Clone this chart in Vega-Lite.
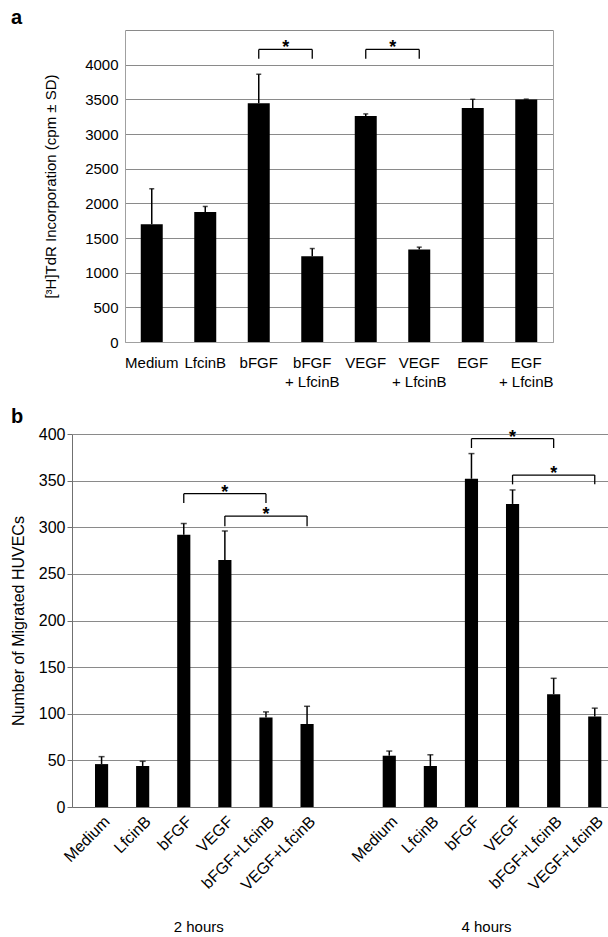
{
  "$schema": "https://vega.github.io/schema/vega-lite/v6.json",
  "background": "white",
  "padding": {"left": 10, "top": 8, "right": 0, "bottom": 0},
  "spacing": 18,
  "config": {
    "font": "Liberation Sans",
    "axis": {"labelFont": "Liberation Sans", "titleFont": "Liberation Sans", "labelColor": "black", "titleColor": "black", "titleFontWeight": "normal", "labelFontSize": 15, "titleFontSize": 15},
    "title": {"font": "Liberation Sans", "fontSize": 20, "fontWeight": "bold", "anchor": "start", "frame": "group", "color": "black"}
  },
  "vconcat": [
    {
      "width": 481,
      "height": 312,
      "title": {"text": "a", "dx": -61, "baseline": "alphabetic", "offset": 0, "dy": 14},
      "view": {"stroke": null},
      "resolve": {"axis": {"y": "independent"}},
      "data": {"values": [
        {"cond": "Medium", "mean": 1700, "upper": 2210},
        {"cond": "LfcinB", "mean": 1874, "upper": 1955},
        {"cond": "bFGF", "mean": 3443, "upper": 3862},
        {"cond": "bFGF + LfcinB", "mean": 1238, "upper": 1348},
        {"cond": "VEGF", "mean": 3261, "upper": 3290},
        {"cond": "VEGF + LfcinB", "mean": 1333, "upper": 1368},
        {"cond": "EGF", "mean": 3376, "upper": 3501},
        {"cond": "EGF + LfcinB", "mean": 3497, "upper": 3503}
      ]},
      "layer": [
        {
          "mark": {"type": "bar", "color": "black"},
          "encoding": {
            "x": {"field": "cond", "type": "nominal", "sort": null,
              "scale": {"domain": ["Medium", "LfcinB", "bFGF", "bFGF + LfcinB", "VEGF", "VEGF + LfcinB", "EGF", "EGF + LfcinB"], "range": [53, 481], "paddingInner": 0.589, "paddingOuter": 0.2945},
              "axis": {"title": null, "labelAngle": 0, "ticks": false, "domain": true, "domainColor": "#a0a0a0", "labelPadding": 13, "labelLineHeight": 19, "labelBaseline": "top",
                "labelExpr": "indexof(datum.label, ' + ') > 0 ? [split(datum.label, ' + ')[0], '+ ' + split(datum.label, ' + ')[1]] : datum.label"}},
            "y": {"field": "mean", "type": "quantitative",
              "scale": {"domain": [0, 4500], "nice": false},
              "axis": {"title": "[³H]TdR Incorporation (cpm ± SD)", "format": "d", "offset": -53, "values": [0, 500, 1000, 1500, 2000, 2500, 3000, 3500, 4000, 4500], "labelExpr": "datum.value == 4500 ? '' : datum.label", "grid": true, "gridColor": "#8a8a8a", "domain": true, "domainColor": "#a0a0a0", "ticks": false, "labelPadding": 7, "titlePadding": 26}}
          }
        },
        {
          "mark": {"type": "rule", "color": "black", "strokeWidth": 1.5},
          "encoding": {"x": {"field": "cond", "type": "nominal", "sort": null}, "y": {"field": "mean", "type": "quantitative",
            "axis": {"orient": "right", "title": null, "labels": false, "ticks": false, "grid": false, "domain": true, "domainColor": "#a0a0a0"}}, "y2": {"field": "upper"}}
        },
        {
          "mark": {"type": "tick", "color": "black", "size": 5, "thickness": 1.5},
          "encoding": {"x": {"field": "cond", "type": "nominal", "sort": null}, "y": {"field": "upper", "type": "quantitative", "axis": null}}
        },
        {
          "data": {"values": [
            {"from": "bFGF", "to": "bFGF + LfcinB", "level": 4220, "foot": 4085},
            {"from": "VEGF", "to": "VEGF + LfcinB", "level": 4220, "foot": 4085}
          ]},
          "layer": [
            {"mark": {"type": "rule", "color": "black", "strokeWidth": 1.3},
             "encoding": {"x": {"field": "from", "type": "nominal"}, "x2": {"field": "to"}, "y": {"field": "level", "type": "quantitative", "axis": null}}},
            {"mark": {"type": "rule", "color": "black", "strokeWidth": 1.3},
             "encoding": {"x": {"field": "from", "type": "nominal"}, "y": {"field": "level", "type": "quantitative", "axis": null}, "y2": {"field": "foot"}}},
            {"mark": {"type": "rule", "color": "black", "strokeWidth": 1.3},
             "encoding": {"x": {"field": "to", "type": "nominal"}, "y": {"field": "level", "type": "quantitative", "axis": null}, "y2": {"field": "foot"}}},
            {"mark": {"type": "text", "text": "*", "fontSize": 18, "fontWeight": "bold", "font": "Liberation Sans", "color": "black", "dx": 27, "dy": -1, "baseline": "middle"},
             "encoding": {"x": {"field": "from", "type": "nominal"}, "y": {"field": "level", "type": "quantitative", "axis": null}}}
          ]
        }
      ]
    },
    {
      "width": 537,
      "height": 373,
      "title": {"text": "b", "dx": -61, "baseline": "alphabetic", "offset": 0, "dy": 17},
      "view": {"stroke": null},
      "data": {"values": [
        {"key": "2h|Medium", "mean": 46, "upper": 54},
        {"key": "2h|LfcinB", "mean": 44, "upper": 49},
        {"key": "2h|bFGF", "mean": 292, "upper": 304},
        {"key": "2h|VEGF", "mean": 265, "upper": 296},
        {"key": "2h|bFGF+LfcinB", "mean": 96, "upper": 102},
        {"key": "2h|VEGF+LfcinB", "mean": 89, "upper": 108},
        {"key": "4h|Medium", "mean": 55, "upper": 60},
        {"key": "4h|LfcinB", "mean": 44, "upper": 56},
        {"key": "4h|bFGF", "mean": 352, "upper": 379},
        {"key": "4h|VEGF", "mean": 325, "upper": 340},
        {"key": "4h|bFGF+LfcinB", "mean": 121, "upper": 138},
        {"key": "4h|VEGF+LfcinB", "mean": 97, "upper": 106}
      ]},
      "layer": [
        {
          "mark": {"type": "bar", "color": "black"},
          "encoding": {
            "x": {"field": "key", "type": "nominal", "sort": null,
              "scale": {"domain": ["2h|Medium", "2h|LfcinB", "2h|bFGF", "2h|VEGF", "2h|bFGF+LfcinB", "2h|VEGF+LfcinB", "gap", "4h|Medium", "4h|LfcinB", "4h|bFGF", "4h|VEGF", "4h|bFGF+LfcinB", "4h|VEGF+LfcinB"], "paddingInner": 0.68, "paddingOuter": 0.373, "align": 0.75},
              "axis": {"title": null, "labelAngle": -45, "labelFontSize": 16, "ticks": false, "domain": true, "domainColor": "#707070", "labelPadding": 6,
                "labelExpr": "datum.value == 'gap' ? '' : split(datum.value, '|')[1]"}},
            "y": {"field": "mean", "type": "quantitative",
              "scale": {"domain": [0, 400], "nice": false},
              "axis": {"title": "Number of Migrated HUVECs", "values": [0, 50, 100, 150, 200, 250, 300, 350, 400], "grid": true, "gridColor": "#8a8a8a", "domain": true, "domainColor": "#707070", "tickSize": 5, "tickColor": "#707070", "labelPadding": 2, "titlePadding": 12, "labelFontSize": 16, "titleFontSize": 16}}
          }
        },
        {
          "mark": {"type": "rule", "color": "black", "strokeWidth": 1.5},
          "encoding": {"x": {"field": "key", "type": "nominal", "sort": null}, "y": {"field": "mean", "type": "quantitative"}, "y2": {"field": "upper"}}
        },
        {
          "mark": {"type": "tick", "color": "black", "size": 6, "thickness": 1.5},
          "encoding": {"x": {"field": "key", "type": "nominal", "sort": null}, "y": {"field": "upper", "type": "quantitative"}}
        },
        {
          "data": {"values": [
            {"from": "2h|bFGF", "mid": "2h|VEGF", "to": "2h|bFGF+LfcinB", "level": 336, "foot": 326},
            {"from": "2h|VEGF", "mid": "2h|bFGF+LfcinB", "to": "2h|VEGF+LfcinB", "level": 312, "foot": 301},
            {"from": "4h|bFGF", "mid": "4h|VEGF", "to": "4h|bFGF+LfcinB", "level": 395, "foot": 385},
            {"from": "4h|VEGF", "mid": "4h|bFGF+LfcinB", "to": "4h|VEGF+LfcinB", "level": 356, "foot": 346}
          ]},
          "layer": [
            {"mark": {"type": "rule", "color": "black", "strokeWidth": 1.3},
             "encoding": {"x": {"field": "from", "type": "nominal"}, "x2": {"field": "to"}, "y": {"field": "level", "type": "quantitative"}}},
            {"mark": {"type": "rule", "color": "black", "strokeWidth": 1.3},
             "encoding": {"x": {"field": "from", "type": "nominal"}, "y": {"field": "level", "type": "quantitative"}, "y2": {"field": "foot"}}},
            {"mark": {"type": "rule", "color": "black", "strokeWidth": 1.3},
             "encoding": {"x": {"field": "to", "type": "nominal"}, "y": {"field": "level", "type": "quantitative"}, "y2": {"field": "foot"}}},
            {"mark": {"type": "text", "text": "*", "fontSize": 18, "fontWeight": "bold", "font": "Liberation Sans", "color": "black", "dy": -1, "baseline": "middle"},
             "encoding": {"x": {"field": "mid", "type": "nominal"}, "y": {"field": "level", "type": "quantitative"}}}
          ]
        },
        {
          "data": {"values": [
            {"grp": "2 hours", "at": "2h|bFGF"},
            {"grp": "4 hours", "at": "4h|bFGF"}
          ]},
          "mark": {"type": "text", "fontSize": 15, "font": "Liberation Sans", "color": "black", "dx": 15, "dy": 120, "baseline": "middle"},
          "encoding": {"x": {"field": "at", "type": "nominal"}, "y": {"datum": 0}, "text": {"field": "grp"}}
        }
      ]
    }
  ]
}
